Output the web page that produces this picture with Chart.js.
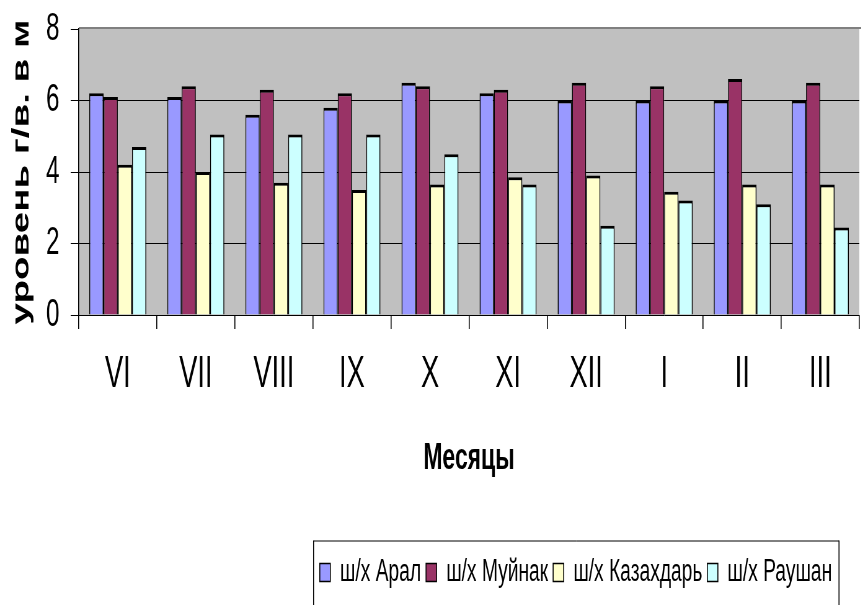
<!DOCTYPE html>
<html lang="ru">
<head>
<meta charset="utf-8">
<script src="https://cdn.jsdelivr.net/npm/chart.js@4/dist/chart.umd.min.js"></script>
<style>
  html, body { margin: 0; padding: 0; background: #fff; overflow: hidden; }
  /* the original picture is squeezed sideways, so draw wide and squeeze */
  #moldura { width: 1389px; height: 605px; transform: scaleX(0.62); transform-origin: 0 0; }
</style>
</head>
<body>
<div id="moldura"><canvas id="graficoNivel"></canvas></div>
<script>
const meses = ['VI', 'VII', 'VIII', 'IX', 'X', 'XI', 'XII', 'I', 'II', 'III']
const aral = [6.2, 6.1, 5.6, 5.8, 6.5, 6.2, 6.0, 6.0, 6.0, 6.0]
const muynak = [6.1, 6.4, 6.3, 6.2, 6.4, 6.3, 6.5, 6.4, 6.6, 6.5]
const kazakhdarya = [4.2, 4.0, 3.7, 3.5, 3.65, 3.85, 3.9, 3.45, 3.65, 3.65]
const raushan = [4.7, 5.05, 5.05, 5.05, 4.5, 3.65, 2.5, 3.2, 3.1, 2.45]
const ticksY = [0, 2, 4, 6, 8]

const fonte = '"Liberation Sans", Arial, sans-serif'
const contorno = { top: 3, right: 1.6, bottom: 0, left: 1.6 }

function serie(nome, valores, cor) {
    return {
        label: nome,
        data: valores,
        backgroundColor: cor,
        borderColor: '#000',
        borderWidth: contorno,
        borderSkipped: 'bottom'
    }
}

const fundoPlot = {
    id: 'fundoPlot',
    afterLayout(chart) {
        // the legend sits right of centre in the original
        const legenda = chart.legend
        const desvio = 929 - (legenda.left + legenda.right) / 2
        legenda.left += desvio
        legenda.right += desvio
    },
    beforeDraw(chart) {
        const { ctx, chartArea: a } = chart
        ctx.save()
        ctx.fillStyle = '#C0C0C0'
        ctx.fillRect(a.left, a.top, a.right - a.left, a.bottom - a.top)
        ctx.strokeStyle = '#808080'
        ctx.lineWidth = 2
        ctx.beginPath()
        ctx.moveTo(a.left, a.top - 1)
        ctx.lineTo(a.right + 4, a.top - 1)
        ctx.stroke()
        ctx.restore()
    },
    afterDraw(chart) {
        // frame round the legend, its bottom runs off the picture
        const caixas = chart.legend.legendHitBoxes
        if (!caixas || !caixas.length) return
        const ultima = caixas[caixas.length - 1]
        const esq = caixas[0].left - 10
        const dir = ultima.left + ultima.width + 11
        const topo = caixas[0].top + caixas[0].height / 2 - 32
        const ctx = chart.ctx
        ctx.save()
        ctx.strokeStyle = '#000'
        ctx.lineWidth = 1
        ctx.beginPath()
        ctx.moveTo(esq, topo + 0.5)
        ctx.lineTo(dir, topo + 0.5)
        ctx.stroke()
        ctx.lineWidth = 1.6
        ctx.beginPath()
        ctx.moveTo(esq, topo)
        ctx.lineTo(esq, chart.height + 5)
        ctx.moveTo(dir, topo)
        ctx.lineTo(dir, chart.height + 5)
        ctx.stroke()
        ctx.restore()
    }
}

Chart.defaults.color = '#000'
Chart.defaults.font.family = fonte

const elementoGrafico = document.querySelector('#graficoNivel')

const grafico = new Chart(elementoGrafico, {
    type: 'bar',
    data: {
        labels: meses,
        datasets: [
            serie('ш/х Арал', aral, '#9999FF'),
            serie('ш/х Муйнак', muynak, '#993366'),
            serie('ш/х Казахдарь', kazakhdarya, '#FFFFCC'),
            serie('ш/х Раушан', raushan, '#CCFFFF')
        ]
    },
    options: {
        responsive: true,
        maintainAspectRatio: false,
        animation: false,
        layout: { padding: { top: 29, right: 3, bottom: 7, left: 0 } },
        datasets: {
            bar: { categoryPercentage: 0.73, barPercentage: 1.0 }
        },
        plugins: {
            tooltip: { enabled: false },
            legend: {
                position: 'bottom',
                labels: {
                    font: { size: 31 },
                    boxWidth: 17,
                    boxHeight: 18,
                    padding: 8,
                    color: '#000'
                }
            }
        },
        scales: {
            x: {
                grid: {
                    display: true,
                    drawOnChartArea: false,
                    offset: true,
                    tickLength: 14,
                    color: '#000',
                    lineWidth: 1.6
                },
                border: { display: true, color: '#000', width: 1 },
                ticks: { font: { size: 44 }, padding: 19, maxRotation: 0, autoSkip: false },
                title: {
                    display: true,
                    text: 'Месяцы',
                    font: { size: 37, weight: 'bold' },
                    padding: { top: 0, bottom: 68 }
                },
                afterFit(escala) {
                    const legenda = escala.chart.legend
                    escala.height = escala.chart.height - 7 - legenda.height - 315
                    escala.paddingLeft = 0
                    escala.paddingRight = 0
                }
            },
            y: {
                min: 0,
                max: 8,
                afterBuildTicks(escala) {
                    escala.ticks = ticksY.map(v => ({ value: v }))
                },
                grid: {
                    color: ctx => (ctx.tick && (ctx.tick.value === 0 || ctx.tick.value === 8)) ? 'rgba(0,0,0,0)' : '#000',
                    tickColor: '#000',
                    tickLength: 13,
                    lineWidth: 1
                },
                border: { display: true, color: '#000', width: 1.6 },
                ticks: { font: { size: 39 }, padding: 18 },
                title: {
                    display: true,
                    text: 'уровень г/в. в м',
                    font: { size: 38.5, weight: 'bold' },
                    padding: { top: 12, bottom: 0 }
                },
                afterFit(escala) {
                    escala.width = 127
                    escala.paddingTop = 0
                    escala.paddingBottom = 0
                }
            }
        }
    },
    plugins: [fundoPlot]
})
</script>
</body>
</html>
